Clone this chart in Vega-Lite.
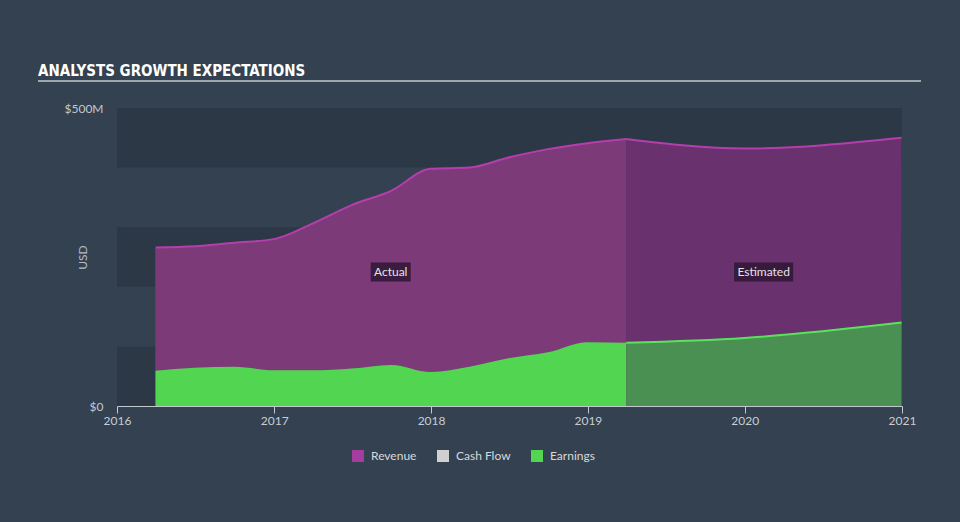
{
  "$schema": "https://vega.github.io/schema/vega-lite/v6.json",
  "width": 785,
  "height": 298,
  "autosize": {"type": "none"},
  "padding": {"left": 117, "top": 108, "right": 58, "bottom": 116},
  "background": "#344150",
  "title": {
    "text": "ANALYSTS GROWTH EXPECTATIONS",
    "anchor": "start",
    "frame": "group",
    "dx": -79,
    "dy": 19,
    "offset": 8,
    "baseline": "alphabetic",
    "font": "DejaVu Sans Condensed, sans-serif",
    "fontSize": 15,
    "fontWeight": "bold",
    "color": "#ffffff"
  },
  "config": {
    "view": {"stroke": null},
    "axisX": {
      "domainColor": "#c3c8ce",
      "tickColor": "#c3c8ce",
      "tickSize": 7,
      "labelColor": "#c8cdd3",
      "labelFont": "Lato",
      "labelFontSize": 12,
      "labelPadding": 2,
      "labelFlush": false,
      "grid": false,
      "title": null
    },
    "axisY": {
      "domain": false,
      "ticks": false,
      "grid": false,
      "labelColor": "#c3c8ce",
      "labelFont": "Lato",
      "labelFontSize": 12,
      "labelPadding": 14,
      "titleColor": "#b4bbc4",
      "titleFont": "Lato",
      "titleFontSize": 12,
      "titleFontWeight": "normal"
    },
    "legend": {
      "orient": "none",
      "legendX": 235,
      "legendY": 342,
      "direction": "horizontal",
      "symbolType": "square",
      "symbolSize": 144,
      "symbolStrokeWidth": 0,
      "labelColor": "#d6dade",
      "labelFont": "Lato",
      "labelFontSize": 12,
      "labelOffset": 7,
      "columnPadding": 20
    }
  },
  "datasets": {
    "fin": [
      {"date": "2016-03-31", "series": "Revenue", "period": "Actual", "value": 266},
      {"date": "2016-06-30", "series": "Revenue", "period": "Actual", "value": 268},
      {"date": "2016-09-30", "series": "Revenue", "period": "Actual", "value": 274},
      {"date": "2016-12-31", "series": "Revenue", "period": "Actual", "value": 280},
      {"date": "2017-03-31", "series": "Revenue", "period": "Actual", "value": 306},
      {"date": "2017-06-30", "series": "Revenue", "period": "Actual", "value": 337},
      {"date": "2017-09-30", "series": "Revenue", "period": "Actual", "value": 361},
      {"date": "2017-12-31", "series": "Revenue", "period": "Actual", "value": 398},
      {"date": "2018-03-31", "series": "Revenue", "period": "Actual", "value": 400},
      {"date": "2018-06-30", "series": "Revenue", "period": "Actual", "value": 417},
      {"date": "2018-09-30", "series": "Revenue", "period": "Actual", "value": 431},
      {"date": "2018-12-31", "series": "Revenue", "period": "Actual", "value": 441},
      {"date": "2019-03-31", "series": "Revenue", "period": "Actual", "value": 448},
      {"date": "2019-03-31", "series": "Revenue", "period": "Estimated", "value": 448},
      {"date": "2019-12-31", "series": "Revenue", "period": "Estimated", "value": 432},
      {"date": "2020-12-31", "series": "Revenue", "period": "Estimated", "value": 450},
      {"date": "2016-03-31", "series": "Earnings", "period": "Actual", "value": 59},
      {"date": "2016-06-30", "series": "Earnings", "period": "Actual", "value": 64},
      {"date": "2016-09-30", "series": "Earnings", "period": "Actual", "value": 66},
      {"date": "2016-12-31", "series": "Earnings", "period": "Actual", "value": 60},
      {"date": "2017-03-31", "series": "Earnings", "period": "Actual", "value": 60},
      {"date": "2017-06-30", "series": "Earnings", "period": "Actual", "value": 63},
      {"date": "2017-09-30", "series": "Earnings", "period": "Actual", "value": 69},
      {"date": "2017-12-31", "series": "Earnings", "period": "Actual", "value": 57},
      {"date": "2018-03-31", "series": "Earnings", "period": "Actual", "value": 66},
      {"date": "2018-06-30", "series": "Earnings", "period": "Actual", "value": 80},
      {"date": "2018-09-30", "series": "Earnings", "period": "Actual", "value": 90},
      {"date": "2018-12-31", "series": "Earnings", "period": "Actual", "value": 107},
      {"date": "2019-03-31", "series": "Earnings", "period": "Actual", "value": 106},
      {"date": "2019-03-31", "series": "Earnings", "period": "Estimated", "value": 106},
      {"date": "2019-12-31", "series": "Earnings", "period": "Estimated", "value": 114},
      {"date": "2020-12-31", "series": "Earnings", "period": "Estimated", "value": 140}
    ],
    "bands": [
      {"lo": 0, "hi": 100},
      {"lo": 200, "hi": 300},
      {"lo": 400, "hi": 500}
    ],
    "notes": [
      {"label": "Actual", "date": "2017-09-29", "value": 225},
      {"label": "Estimated", "date": "2020-02-14", "value": 225}
    ]
  },
  "layer": [
    {
      "data": {"values": [{}]},
      "mark": {"type": "rule", "color": "#c3c8ce", "strokeWidth": 1.5},
      "encoding": {
        "x": {"value": -79},
        "x2": {"value": 804},
        "y": {"value": -27}
      }
    },
    {
      "data": {"name": "bands"},
      "mark": {"type": "rect", "color": "#2d3847"},
      "encoding": {
        "y": {
          "field": "lo",
          "type": "quantitative",
          "title": "USD",
          "scale": {"domain": [0, 500], "nice": false},
          "axis": {
            "values": [0, 500],
            "labelExpr": "datum.value == 0 ? '$0' : '$' + datum.value + 'M'",
            "titleAngle": 270,
            "titleX": -35,
            "titleY": 149,
            "titleBaseline": "middle",
            "titleAlign": "center"
          }
        },
        "y2": {"field": "hi"},
        "x": {"value": 0},
        "x2": {"value": "width"}
      }
    },
    {
      "data": {"name": "fin"},
      "transform": [{"filter": "datum.period === 'Actual'"}],
      "mark": {"type": "area", "interpolate": "monotone"},
      "encoding": {
        "x": {
          "field": "date",
          "type": "temporal",
          "title": null,
          "scale": {"domain": [{"year": 2016, "month": 1, "date": 1}, {"year": 2021, "month": 1, "date": 1}]},
          "axis": {
            "values": [{"year": 2016}, {"year": 2017}, {"year": 2018}, {"year": 2019}, {"year": 2020}, {"year": 2021}],
            "format": "%Y"
          }
        },
        "y": {"field": "value", "type": "quantitative", "title": "USD", "stack": null},
        "color": {
          "field": "series",
          "type": "nominal",
          "scale": {"domain": ["Revenue", "Cash Flow", "Earnings"], "range": ["#a43d9e", "#d0d0d0", "#52d652"]},
          "legend": {"title": null}
        }
      }
    },
    {
      "data": {"name": "fin"},
      "transform": [{"filter": "datum.series === 'Revenue' && datum.period === 'Actual'"}],
      "mark": {"type": "area", "interpolate": "monotone", "color": "#7c3a79"},
      "encoding": {
        "x": {"field": "date", "type": "temporal", "title": null},
        "y": {"field": "value", "type": "quantitative", "title": "USD"}
      }
    },
    {
      "data": {"name": "fin"},
      "transform": [{"filter": "datum.series === 'Revenue' && datum.period === 'Estimated'"}],
      "mark": {"type": "area", "interpolate": "monotone", "color": "#69316e"},
      "encoding": {
        "x": {"field": "date", "type": "temporal", "title": null},
        "y": {"field": "value", "type": "quantitative", "title": "USD"}
      }
    },
    {
      "data": {"name": "fin"},
      "transform": [{"filter": "datum.series === 'Earnings' && datum.period === 'Actual'"}],
      "mark": {"type": "area", "interpolate": "monotone", "color": "#52d652"},
      "encoding": {
        "x": {"field": "date", "type": "temporal", "title": null},
        "y": {"field": "value", "type": "quantitative", "title": "USD"}
      }
    },
    {
      "data": {"name": "fin"},
      "transform": [{"filter": "datum.series === 'Earnings' && datum.period === 'Estimated'"}],
      "mark": {"type": "area", "interpolate": "monotone", "color": "#4a9052"},
      "encoding": {
        "x": {"field": "date", "type": "temporal", "title": null},
        "y": {"field": "value", "type": "quantitative", "title": "USD"}
      }
    },
    {
      "data": {"name": "fin"},
      "transform": [{"filter": "datum.series === 'Revenue'"}],
      "mark": {"type": "line", "interpolate": "monotone", "color": "#b53eac", "strokeWidth": 2},
      "encoding": {
        "x": {"field": "date", "type": "temporal", "title": null},
        "y": {"field": "value", "type": "quantitative", "title": "USD"},
        "detail": {"field": "period"}
      }
    },
    {
      "data": {"name": "fin"},
      "transform": [{"filter": "datum.series === 'Earnings' && datum.period === 'Estimated'"}],
      "mark": {"type": "line", "interpolate": "monotone", "color": "#5ae35a", "strokeWidth": 2},
      "encoding": {
        "x": {"field": "date", "type": "temporal", "title": null},
        "y": {"field": "value", "type": "quantitative", "title": "USD"}
      }
    },
    {
      "data": {"name": "notes"},
      "transform": [{"filter": "datum.label === 'Actual'"}],
      "mark": {"type": "point", "filled": true, "shape": "M-1,-0.475H1V0.475H-1Z", "size": 1600, "color": "#2a1530", "opacity": 0.8},
      "encoding": {
        "x": {"field": "date", "type": "temporal", "title": null},
        "y": {"field": "value", "type": "quantitative", "title": "USD"}
      }
    },
    {
      "data": {"name": "notes"},
      "transform": [{"filter": "datum.label === 'Estimated'"}],
      "mark": {"type": "point", "filled": true, "shape": "M-1,-0.322H1V0.322H-1Z", "size": 3481, "color": "#2a1530", "opacity": 0.8},
      "encoding": {
        "x": {"field": "date", "type": "temporal", "title": null},
        "y": {"field": "value", "type": "quantitative", "title": "USD"}
      }
    },
    {
      "data": {"name": "notes"},
      "mark": {"type": "text", "color": "#e4e4e8", "font": "Lato", "fontSize": 12, "baseline": "middle", "align": "center"},
      "encoding": {
        "x": {"field": "date", "type": "temporal", "title": null},
        "y": {"field": "value", "type": "quantitative", "title": "USD"},
        "text": {"field": "label"}
      }
    }
  ]
}
